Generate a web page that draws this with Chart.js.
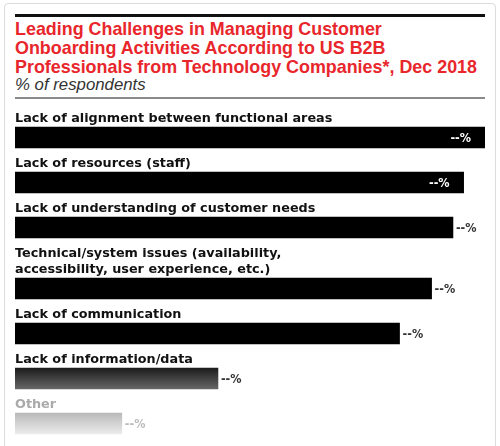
<!DOCTYPE html>
<html>
<head>
<meta charset="utf-8">
<script src="https://cdn.jsdelivr.net/npm/chart.js@4.4.1/dist/chart.umd.min.js"></script>
<style>
  html, body { margin: 0; padding: 0; background: #fff; }
  body { width: 500px; height: 446px; position: relative; overflow: hidden; }
  .frame {
    position: absolute; left: 4px; top: 3px; width: 492px; height: 460px;
    border: 1px solid #dcdcdc; border-radius: 4px; box-sizing: border-box;
  }
  .topRule { position: absolute; left: 15px; top: 14px; width: 470px; height: 3px; background: #111; }
  .title {
    position: absolute; left: 15px; top: 20px; width: 484px;
    font-family: "Liberation Sans", Arial, sans-serif; font-weight: bold;
    font-size: 17.9px; line-height: 19px; color: #e8262b;
  }
  .subtitle {
    position: absolute; left: 15px; top: 76px;
    font-family: "Liberation Sans", Arial, sans-serif; font-style: italic;
    font-size: 16.8px; line-height: 18px; color: #333;
  }
  .midRule { position: absolute; left: 15px; top: 97px; width: 470px; height: 2px; background: #8a8a8a; }
  .chartBox { position: absolute; left: 15px; top: 104px; width: 470px; height: 342px; }
</style>
</head>
<body>
<div class="frame"></div>
<div class="topRule"></div>
<div class="title">Leading Challenges in Managing Customer<br>Onboarding Activities According to US B2B<br>Professionals from Technology Companies*, Dec 2018</div>
<div class="subtitle">% of respondents</div>
<div class="midRule"></div>
<div class="chartBox"><canvas id="chart"></canvas></div>

<script>
// Categories (multi-line labels are arrays)
const categories = [
    'Lack of alignment between functional areas',
    'Lack of resources (staff)',
    'Lack of understanding of customer needs',
    ['Technical/system issues (availability,', 'accessibility, user experience, etc.)'],
    'Lack of communication',
    'Lack of information/data',
    'Other'
];
// Bar lengths (values are shown as "--%")
const values = [44, 42, 41, 39, 36, 19, 10];
const valueLabels = ['--%', '--%', '--%', '--%', '--%', '--%', '--%'];

// Row layout: label lines then a bar under them
const LINE_H = 16;
const BAR_H = 21;
const ROW_GAP = 8;
const FIRST_ROW = 4;

const lineCount = categories.map(c => Array.isArray(c) ? c.length : 1);
const rowTops = [];
let acc = FIRST_ROW;
lineCount.forEach(n => { rowTops.push(acc); acc += n * LINE_H + BAR_H + ROW_GAP; });
const barCenters = rowTops.map((top, i) => top + 19 + (lineCount[i] - 1) * LINE_H + BAR_H / 2);

const points = values.map((v, i) => ({ x: v, y: barCenters[i] }));

function barColor(context) {
    const i = context.dataIndex;
    const chart = context.chart;
    if (i < 5) return '#000';
    if (!chart.chartArea) return i === 5 ? '#333' : '#ccc';
    const y = chart.scales.y.getPixelForValue(barCenters[i]);
    const g = chart.ctx.createLinearGradient(0, y - BAR_H / 2, 0, y + BAR_H / 2);
    if (i === 5) {
        g.addColorStop(0, '#1c1c1c');
        g.addColorStop(1, '#666');
    } else {
        g.addColorStop(0, '#b9b9b9');
        g.addColorStop(1, '#ececec');
    }
    return g;
}

const labelPlugin = {
    id: 'rowLabels',
    afterDatasetsDraw(chart) {
        const ctx = chart.ctx;
        const meta = chart.getDatasetMeta(0);
        const area = chart.chartArea;
        ctx.save();
        meta.data.forEach((bar, i) => {
            const isOther = i === categories.length - 1;
            // category label above the bar
            const lines = Array.isArray(categories[i]) ? categories[i] : [categories[i]];
            ctx.font = 'bold 12.8px "DejaVu Sans", sans-serif';
            ctx.fillStyle = isOther ? '#aaa' : '#111';
            ctx.textAlign = 'left';
            ctx.textBaseline = 'alphabetic';
            const barTop = bar.y - BAR_H / 2;
            lines.forEach((line, k) => {
                const base = barTop - 5 - (lines.length - 1 - k) * LINE_H;
                ctx.fillText(line, area.left, base);
            });
            // value label
            ctx.font = 'bold 12.5px "DejaVu Sans Condensed", "DejaVu Sans", sans-serif';
            ctx.textBaseline = 'middle';
            const w = ctx.measureText(valueLabels[i]).width;
            if (bar.x + 4 + w > area.right) {
                ctx.fillStyle = '#fff';
                ctx.textAlign = 'right';
                ctx.fillText(valueLabels[i], bar.x - 14, bar.y + 1);
            } else {
                ctx.fillStyle = isOther ? '#bbb' : '#333';
                ctx.textAlign = 'left';
                ctx.fillText(valueLabels[i], bar.x + 3, bar.y + 1);
            }
        });
        ctx.restore();
    }
};

const chartHeight = 342;

new Chart(document.getElementById('chart'), {
    type: 'bar',
    data: {
        datasets: [{
            data: points,
            backgroundColor: barColor,
            borderWidth: 0,
            barThickness: BAR_H
        }]
    },
    options: {
        indexAxis: 'y',
        responsive: true,
        maintainAspectRatio: false,
        animation: false,
        layout: { padding: 0 },
        plugins: {
            legend: { display: false },
            tooltip: { enabled: false }
        },
        scales: {
            x: {
                type: 'linear',
                display: false,
                offset: false,
                grace: 0,
                min: 0,
                max: Math.max(...values)
            },
            y: {
                type: 'linear',
                display: false,
                offset: false,
                grace: 0,
                reverse: true,
                min: 0,
                max: chartHeight
            }
        }
    },
    plugins: [labelPlugin]
});
</script>
</body>
</html>
